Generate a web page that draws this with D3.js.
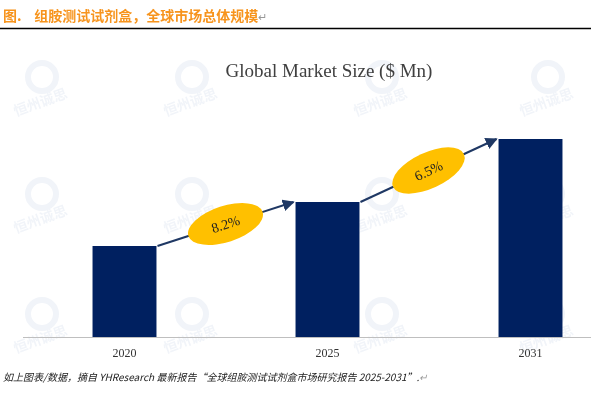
<!DOCTYPE html>
<html lang="zh">
<head>
<meta charset="UTF-8">
<script src="https://d3js.org/d3.v7.min.js"></script>
<title>组胺测试试剂盒，全球市场总体规模</title>
<style>
    body { margin: 0; background: #fff; }
    svg { display: block; }
</style>
</head>
<body>
<div id="chart"></div>
<script>
    // data (bar heights, relative units)
    const years = ["2020", "2025", "2031"];
    const sizes = [91, 135, 198];
    const growthLabels = ["8.2%", "6.5%"];

    const width = 591, height = 395;
    const baseY = 337, topY = 139;

    const svg = d3.select("#chart").append("svg")
        .attr("width", width)
        .attr("height", height);

    // faint watermarks in the background
    const wmX = [42, 192, 382, 548];
    const wmY = [95, 212, 332];
    const wm = svg.append("g").attr("opacity", 0.06);
    wmY.forEach(wy => wmX.forEach(wx => {
        wm.append("circle").attr("cx", wx).attr("cy", wy - 18).attr("r", 14)
            .attr("fill", "none").attr("stroke", "#1f4e9a").attr("stroke-width", 6);
        wm.append("text")
            .attr("transform", `translate(${wx},${wy + 12}) rotate(-20)`)
            .attr("text-anchor", "middle")
            .style("font-family", "'Noto Sans CJK SC'")
            .style("font-weight", "bold")
            .style("font-size", "14px")
            .attr("fill", "#1f4e9a")
            .text("恒州诚思");
    }));

    // header
    const head = svg.append("text")
        .attr("x", 3).attr("y", 21)
        .style("font-family", "'Noto Sans CJK SC'")
        .style("font-weight", "bold")
        .style("font-size", "14px");
    head.append("tspan").attr("fill", "#f7941d").text("图.\u00a0\u00a0\u00a0\u00a0组胺测试试剂盒，全球市场总体规模");
    head.append("tspan").attr("fill", "#999").style("font-weight", "normal").style("font-size", "11px").text("↵");

    svg.append("line")
        .attr("x1", 0).attr("x2", width)
        .attr("y1", 28.5).attr("y2", 28.5)
        .attr("stroke", "#000").attr("stroke-width", 1.5);

    // chart title
    svg.append("text")
        .attr("x", 329).attr("y", 77)
        .attr("text-anchor", "middle")
        .style("font-family", "'Liberation Serif', serif")
        .style("font-size", "19px")
        .attr("fill", "#404040")
        .text("Global Market Size ($ Mn)");

    const x = d3.scaleBand()
        .domain(years)
        .range([23, 632])
        .paddingInner(0.685)
        .paddingOuter(0.3425);

    const y = d3.scaleLinear()
        .domain([0, d3.max(sizes)])
        .range([baseY, topY]);

    // axis line
    svg.append("line")
        .attr("x1", 23).attr("x2", width)
        .attr("y1", baseY + 0.5).attr("y2", baseY + 0.5)
        .attr("stroke", "#bfbfbf").attr("stroke-width", 1);

    svg.selectAll(".bar")
        .data(sizes)
        .enter()
        .append("rect")
        .attr("class", "bar")
        .attr("x", (d, i) => x(years[i]))
        .attr("y", d => y(d))
        .attr("width", x.bandwidth())
        .attr("height", d => baseY - y(d))
        .attr("fill", "#002060");

    svg.selectAll(".year")
        .data(years)
        .enter()
        .append("text")
        .attr("x", d => x(d) + x.bandwidth() / 2)
        .attr("y", 357)
        .attr("text-anchor", "middle")
        .style("font-family", "'Liberation Serif', serif")
        .style("font-size", "12px")
        .attr("fill", "#333")
        .text(d => d);

    // arrows between bars
    svg.append("defs").append("marker")
        .attr("id", "head")
        .attr("viewBox", "0 0 10 10")
        .attr("refX", 9).attr("refY", 5)
        .attr("markerWidth", 6).attr("markerHeight", 6)
        .attr("orient", "auto")
        .append("path")
        .attr("d", "M0,0 L10,5 L0,10 z")
        .attr("fill", "#1f3864");

    growthLabels.forEach((label, i) => {
        const x1 = x(years[i]) + x.bandwidth() + 1, y1 = y(sizes[i]);
        const x2 = x(years[i + 1]) - 2, y2 = y(sizes[i + 1]);
        svg.append("line")
            .attr("x1", x1).attr("y1", y1)
            .attr("x2", x2).attr("y2", y2)
            .attr("stroke", "#1f3864")
            .attr("stroke-width", 2)
            .attr("marker-end", "url(#head)");

        const cx = (x1 + x2) / 2, cy = (y1 + y2) / 2;
        const ang = Math.atan2(y2 - y1, x2 - x1) * 180 / Math.PI;
        const g = svg.append("g").attr("transform", `translate(${cx},${cy}) rotate(${ang})`);
        g.append("ellipse")
            .attr("rx", 39).attr("ry", 18)
            .attr("fill", "#ffc000");
        g.append("text")
            .attr("y", 5)
            .attr("text-anchor", "middle")
            .style("font-family", "'Liberation Serif', serif")
            .style("font-size", "14px")
            .attr("fill", "#222")
            .text(label);
    });

    // footer note
    svg.append("text")
        .attr("x", 3).attr("y", 381)
        .style("font-family", "'Noto Sans CJK SC'")
        .style("font-style", "italic")
        .style("font-size", "10px")
        .attr("fill", "#222")
        .text("如上图表/数据，摘自 YHResearch 最新报告“全球组胺测试试剂盒市场研究报告 2025-2031”.")
        .append("tspan").attr("fill", "#999").text("↵");
</script>
</body>
</html>
